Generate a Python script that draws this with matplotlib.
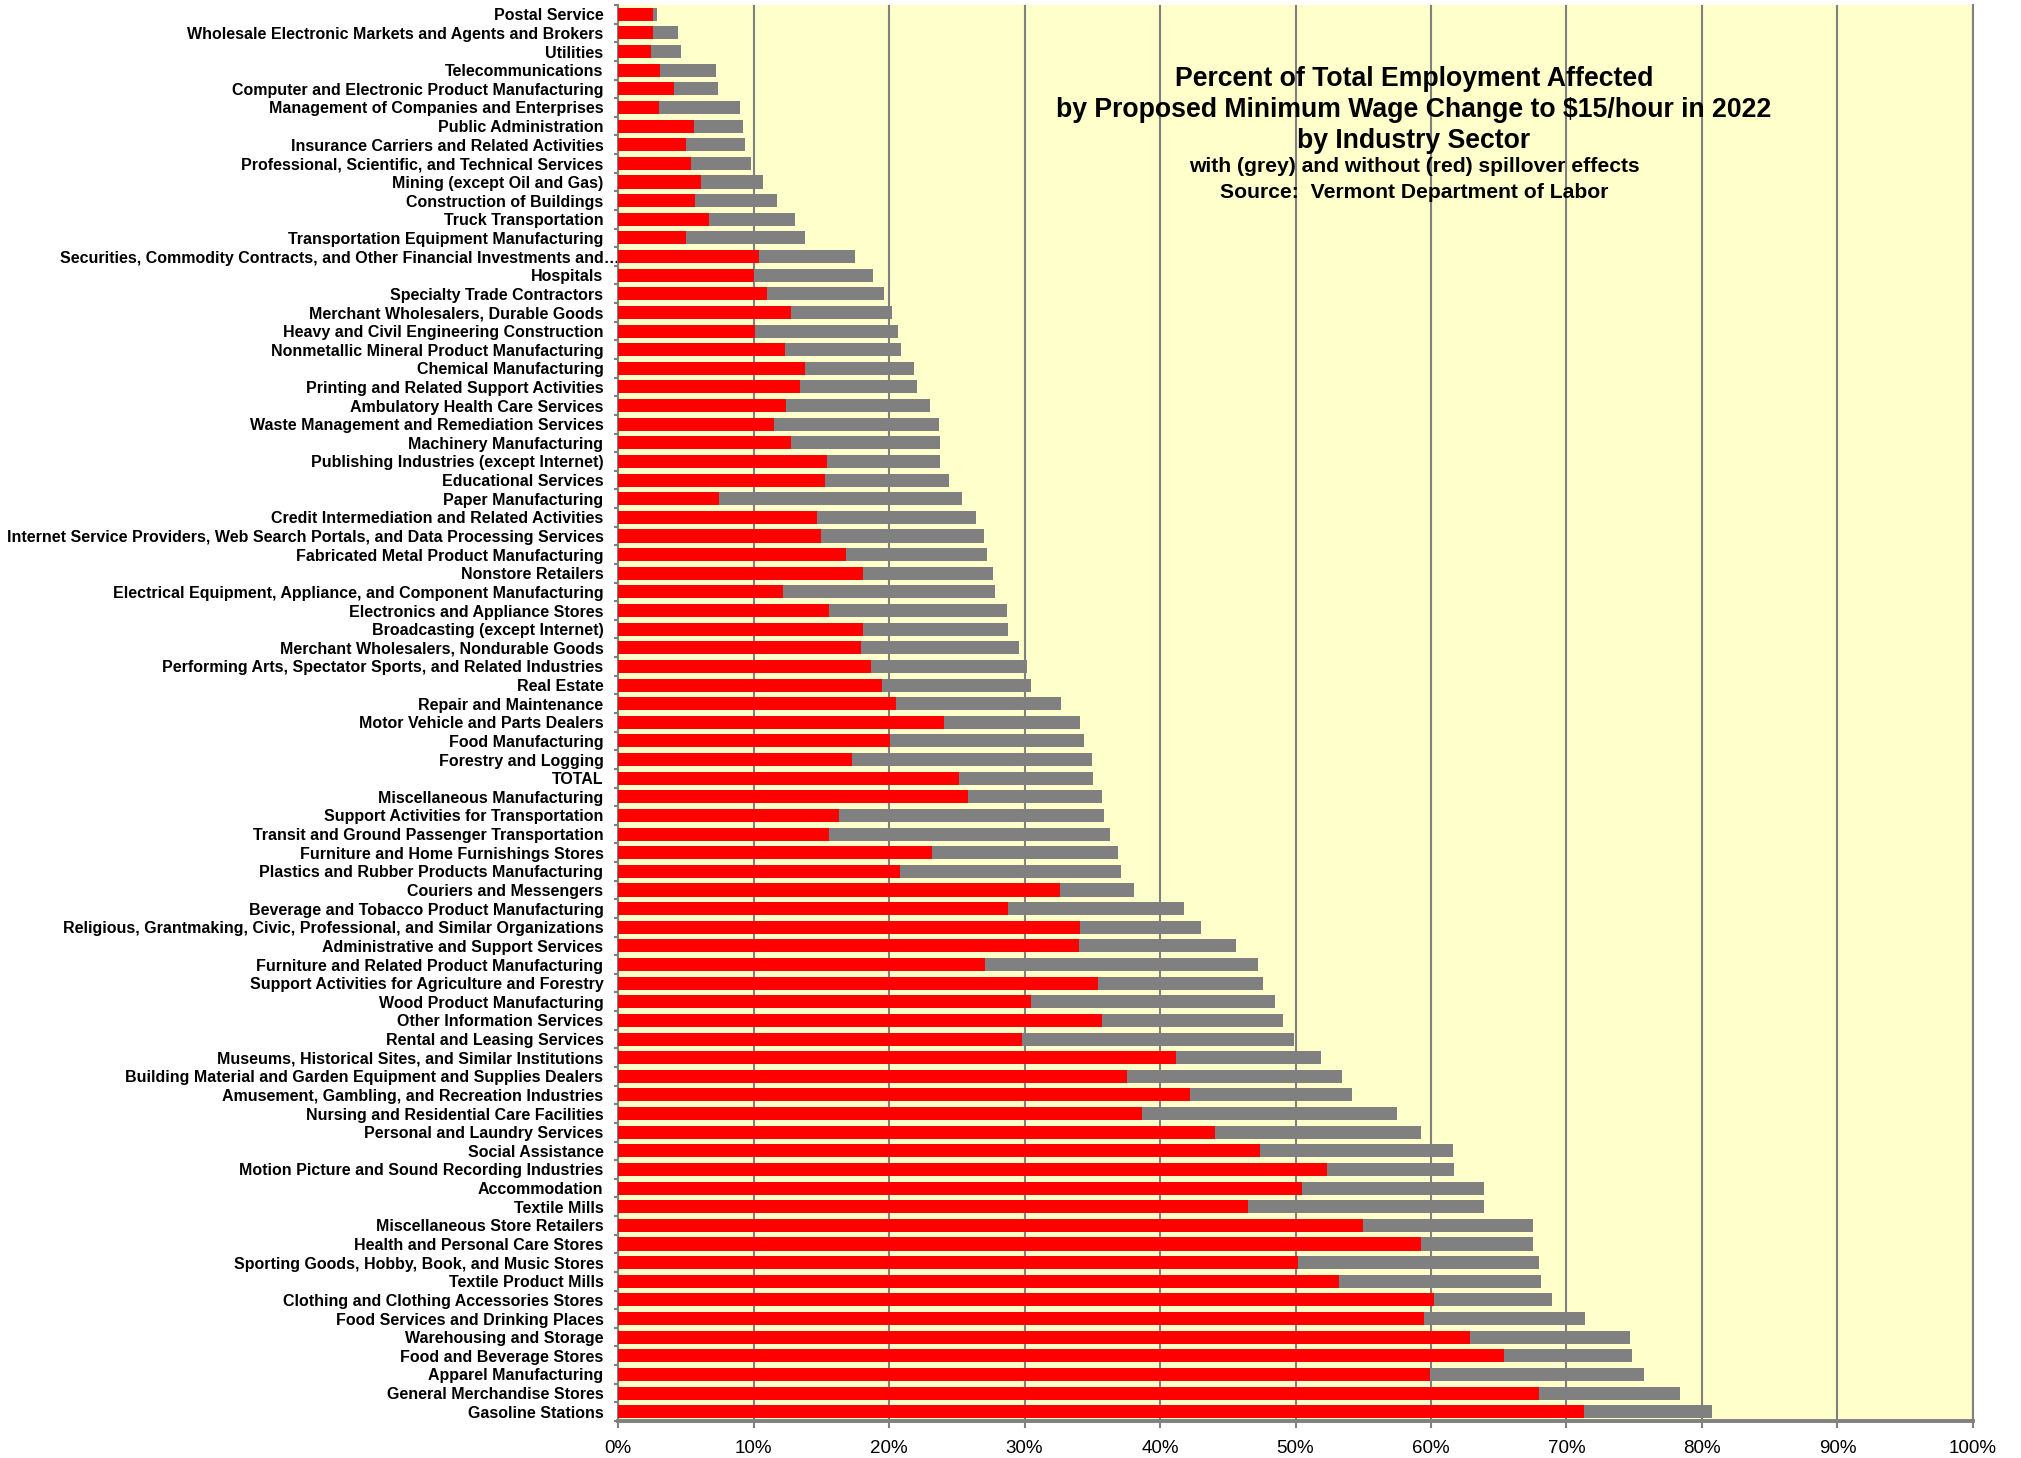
import matplotlib
matplotlib.use("Agg")
import matplotlib.pyplot as plt
from matplotlib.ticker import FixedLocator, FuncFormatter
from matplotlib.transforms import ScaledTranslation

plt.rcParams['font.family'] = ['Liberation Sans', 'DejaVu Sans']

categories = [
    "Postal Service",
    "Wholesale Electronic Markets and Agents and Brokers",
    "Utilities",
    "Telecommunications",
    "Computer and Electronic Product Manufacturing",
    "Management of Companies and Enterprises",
    "Public Administration",
    "Insurance Carriers and Related Activities",
    "Professional, Scientific, and Technical Services",
    "Mining (except Oil and Gas)",
    "Construction of Buildings",
    "Truck Transportation",
    "Transportation Equipment Manufacturing",
    "Securities, Commodity Contracts, and Other Financial Investments and\u2026",
    "Hospitals",
    "Specialty Trade Contractors",
    "Merchant Wholesalers, Durable Goods",
    "Heavy and Civil Engineering Construction",
    "Nonmetallic Mineral Product Manufacturing",
    "Chemical Manufacturing",
    "Printing and Related Support Activities",
    "Ambulatory Health Care Services",
    "Waste Management and Remediation Services",
    "Machinery Manufacturing",
    "Publishing Industries (except Internet)",
    "Educational Services",
    "Paper Manufacturing",
    "Credit Intermediation and Related Activities",
    "Internet Service Providers, Web Search Portals, and Data Processing Services",
    "Fabricated Metal Product Manufacturing",
    "Nonstore Retailers",
    "Electrical Equipment, Appliance, and Component Manufacturing",
    "Electronics and Appliance Stores",
    "Broadcasting (except Internet)",
    "Merchant Wholesalers, Nondurable Goods",
    "Performing Arts, Spectator Sports, and Related Industries",
    "Real Estate",
    "Repair and Maintenance",
    "Motor Vehicle and Parts Dealers",
    "Food Manufacturing",
    "Forestry and Logging",
    "TOTAL",
    "Miscellaneous Manufacturing",
    "Support Activities for Transportation",
    "Transit and Ground Passenger Transportation",
    "Furniture and Home Furnishings Stores",
    "Plastics and Rubber Products Manufacturing",
    "Couriers and Messengers",
    "Beverage and Tobacco Product Manufacturing",
    "Religious, Grantmaking, Civic, Professional, and Similar Organizations",
    "Administrative and Support Services",
    "Furniture and Related Product Manufacturing",
    "Support Activities for Agriculture and Forestry",
    "Wood Product Manufacturing",
    "Other Information Services",
    "Rental and Leasing Services",
    "Museums, Historical Sites, and Similar Institutions",
    "Building Material and Garden Equipment and Supplies Dealers",
    "Amusement, Gambling, and Recreation Industries",
    "Nursing and Residential Care Facilities",
    "Personal and Laundry Services",
    "Social Assistance",
    "Motion Picture and Sound Recording Industries",
    "Accommodation",
    "Textile Mills",
    "Miscellaneous Store Retailers",
    "Health and Personal Care Stores",
    "Sporting Goods, Hobby, Book, and Music Stores",
    "Textile Product Mills",
    "Clothing and Clothing Accessories Stores",
    "Food Services and Drinking Places",
    "Warehousing and Storage",
    "Food and Beverage Stores",
    "Apparel Manufacturing",
    "General Merchandise Stores",
    "Gasoline Stations",
]

# Percent affected without spillover effects (red)
without_spillover = [
    2.6, 2.6, 2.4, 3.1, 4.1, 3.0, 5.6, 5.0, 5.4, 6.1,
    5.7, 6.7, 5.05, 10.4, 10.05, 11.0, 12.8, 10.1, 12.3, 13.8,
    13.45, 12.4, 11.5, 12.8, 15.45, 15.3, 7.45, 14.7, 15.0, 16.8,
    18.1, 12.2, 15.6, 18.1, 17.9, 18.65, 19.5, 20.5, 24.05, 20.05,
    17.3, 25.2, 25.8, 16.3, 15.6, 23.2, 20.8, 32.6, 28.8, 34.1,
    34.0, 27.1, 35.4, 30.5, 35.7, 29.8, 41.2, 37.6, 42.2, 38.65,
    44.05, 47.35, 52.3, 50.5, 46.5, 55.0, 59.25, 50.15, 53.2, 60.2,
    59.5, 62.9, 65.4, 59.95, 68.0, 71.3,
]

# Percent affected with spillover effects (grey)
with_spillover = [
    2.9, 4.4, 4.65, 7.2, 7.4, 9.0, 9.2, 9.4, 9.8, 10.7,
    11.7, 13.05, 13.8, 17.5, 18.8, 19.6, 20.2, 20.7, 20.9, 21.85,
    22.05, 23.0, 23.7, 23.75, 23.8, 24.4, 25.4, 26.4, 27.0, 27.2,
    27.7, 27.8, 28.7, 28.8, 29.6, 30.15, 30.5, 32.7, 34.1, 34.4,
    35.0, 35.05, 35.7, 35.9, 36.3, 36.9, 37.1, 38.1, 41.75, 43.0,
    45.6, 47.25, 47.6, 48.5, 49.1, 49.9, 51.9, 53.4, 54.2, 57.5,
    59.25, 61.6, 61.7, 63.9, 63.9, 67.5, 67.5, 68.0, 68.1, 68.9,
    71.4, 74.65, 74.8, 75.7, 78.4, 80.75,
]

x_ticks = [0, 10, 20, 30, 40, 50, 60, 70, 80, 90, 100]

title_lines = [
    "Percent of Total Employment Affected",
    "by Proposed Minimum Wage Change to $15/hour in 2022",
    "by Industry Sector",
]
subtitle_lines = [
    "with (grey) and without (red) spillover effects",
    "Source:  Vermont Department of Labor",
]

W, H = 2021, 1458
fig = plt.figure(figsize=(W / 100, H / 100), dpi=100)
fig.patch.set_facecolor("white")

left, right, top, bottom = 618, 1973, 5, 1421
ax = fig.add_axes([left / W, 1 - bottom / H, (right - left) / W, (bottom - top) / H])
ax.set_facecolor("#FFFFCC")

n = len(categories)
pos = list(range(n))
grey = "#808080"

ax.barh(pos, with_spillover, height=0.7, color=grey, zorder=2)
ax.barh(pos, without_spillover, height=0.7, color="#FF0000", zorder=3)

ax.set_xlim(0, 100)
ax.set_ylim(n - 0.5, -0.5)

# vertical gridlines
ax.xaxis.set_major_locator(FixedLocator(x_ticks))
ax.xaxis.set_major_formatter(FuncFormatter(lambda v, p: f"{int(round(v))}%"))
ax.grid(axis="x", color=grey, linewidth=1.5, zorder=1)
ax.set_axisbelow(True)
ax.tick_params(axis="x", direction="out", length=5, width=1.5, color=grey,
               labelsize=13.5, pad=9)

# category labels with boundary tick marks
ax.set_yticks(pos)
ax.set_yticklabels(categories, fontsize=11.5, fontweight="bold")
ax.tick_params(axis="y", which="major", length=0, pad=10.5)
ax.yaxis.set_minor_locator(FixedLocator([i - 0.5 for i in range(n + 1)]))
ax.tick_params(axis="y", which="minor", direction="out", length=3, width=1.5, color=grey)

# the truncated long label runs up to the axis line in the original
for lab in ax.get_yticklabels():
    if lab.get_text().endswith("\u2026"):
        lab.set_transform(lab.get_transform() +
                          ScaledTranslation(0.16, 0, fig.dpi_scale_trans))

ax.spines["top"].set_visible(False)
ax.spines["right"].set_color(grey)
ax.spines["right"].set_linewidth(1.5)
ax.spines["left"].set_color(grey)
ax.spines["left"].set_linewidth(1.5)
ax.spines["bottom"].set_color(grey)
ax.spines["bottom"].set_linewidth(2.8)

cx = 1414 / W
for txt, y in zip(title_lines, [79, 110, 141]):
    fig.text(cx, 1 - y / H, txt, ha="center", va="center", fontsize=19.2,
             fontweight="bold", color="black")
for txt, y in zip(subtitle_lines, [167, 192]):
    fig.text(cx, 1 - y / H, txt, ha="center", va="center", fontsize=15.2,
             fontweight="bold", color="black")

fig.savefig("out.png", dpi=100, facecolor="white")
